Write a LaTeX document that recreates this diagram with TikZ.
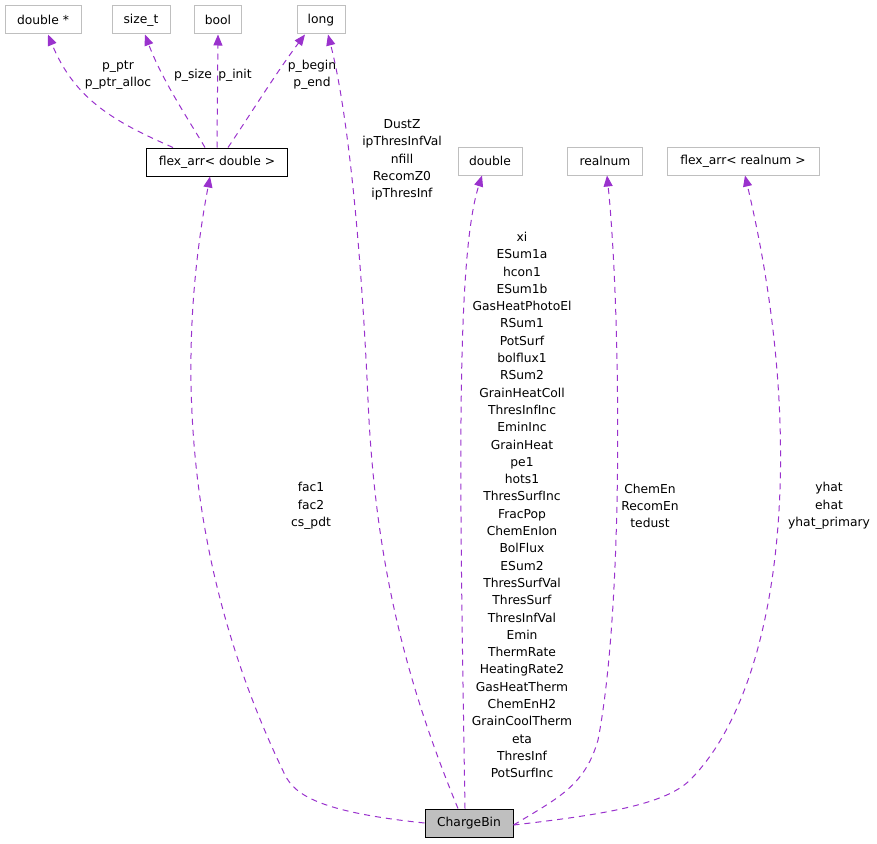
\documentclass[tikz,border=0pt]{standalone}
\usepackage{fontspec}
\setmainfont{DejaVu Sans}
\usetikzlibrary{arrows.meta}
\definecolor{edgec}{HTML}{9A32CD}
\definecolor{boxg}{HTML}{BFBFBF}
\begin{document}
\begin{tikzpicture}[x=1pt,y=-1pt,
  font=\fontsize{12.3}{17.3}\selectfont,
  box/.style={draw=boxg,line width=1pt,inner sep=0pt,minimum height=28pt,anchor=center},
  mainbox/.style={draw=black,line width=1pt,inner sep=0pt,minimum height=28pt},
  edge/.style={draw=edgec,line width=1pt,dash pattern=on 6pt off 5pt,-{Triangle[length=11pt,width=9pt]},edgec},
  lbl/.style={align=center,inner sep=0pt}]
\useasboundingbox (0,0) rectangle (877,843);
% nodes
\node[box,minimum width=76pt] (dptr) at (43,20) {double *};
\node[box,minimum width=58pt] (sizet) at (141,20) {size\_t};
\node[box,minimum width=47pt] (bool) at (218,20) {bool};
\node[box,minimum width=48pt] (long) at (321,20) {long};
\node[mainbox,minimum width=141pt] (flexd) at (217,162) {flex\_arr< double >};
\node[box,minimum width=64pt] (dbl) at (490,161) {double};
\node[box,minimum width=75pt] (real) at (605,161) {realnum};
\node[box,minimum width=152pt] (flexr) at (743,161) {flex\_arr< realnum >};
\node[mainbox,fill=boxg,minimum width=88pt] (cb) at (469,823) {ChargeBin};
% edges
\draw[edge] ([xshift=-44pt]flexd.north) .. controls (115,122) and (75,100) .. ([xshift=5pt]dptr.south);
\draw[edge] ([xshift=-12pt]flexd.north) .. controls (190,122) and (162,80) .. ([xshift=4pt]sizet.south);
\draw[edge] (flexd.north) -- (bool.south);
\draw[edge] ([xshift=11pt]flexd.north) .. controls (248,118) and (278,70) .. ([xshift=-16pt]long.south);
\draw[edge] ([xshift=-11pt]cb.north) .. controls (405,680) and (375,560) .. (368,400) .. controls (360,220) and (345,100) .. ([xshift=7pt]long.south);
\draw[edge] (cb.west) .. controls (320,812) and (295,795) .. (285,775) .. controls (200,600) and (168,400) .. ([xshift=-7pt]flexd.south);
\draw[edge] ([xshift=-4pt]cb.north) .. controls (460,500) and (455,260) .. ([xshift=-8pt]dbl.south);
\draw[edge] ([yshift=-2pt]cb.east) .. controls (560,797) and (585,785) .. (598,740) .. controls (625,600) and (620,300) .. ([xshift=2pt]real.south);
\draw[edge] ([yshift=-2pt]cb.east) .. controls (600,815) and (665,805) .. (690,780) .. controls (780,690) and (810,450) .. ([xshift=2pt]flexr.south);
% labels
\node[lbl] (l1) at (118,75) {p\_ptr\\p\_ptr\_alloc};
\node[lbl] (l2) at (193,75) {p\_size};
\node[lbl] (l3) at (235,75) {p\_init};
\node[lbl] (l4) at (312,75) {p\_begin\\p\_end};
\node[lbl] (l5) at (402,160) {DustZ\\ipThresInfVal\\nfill\\RecomZ0\\ipThresInf};
\node[lbl] (l6) at (311,506) {fac1\\fac2\\cs\_pdt};
\node[lbl] (l7) at (522,505) {xi\\ESum1a\\hcon1\\ESum1b\\GasHeatPhotoEl\\RSum1\\PotSurf\\bolflux1\\RSum2\\GrainHeatColl\\ThresInfInc\\EminInc\\GrainHeat\\pe1\\hots1\\ThresSurfInc\\FracPop\\ChemEnIon\\BolFlux\\ESum2\\ThresSurfVal\\ThresSurf\\ThresInfVal\\Emin\\ThermRate\\HeatingRate2\\GasHeatTherm\\ChemEnH2\\GrainCoolTherm\\eta\\ThresInf\\PotSurfInc};
\node[lbl] (l8) at (650,506) {ChemEn\\RecomEn\\tedust};
\node[lbl] (l9) at (829,506) {yhat\\ehat\\yhat\_primary};
\end{tikzpicture}
\end{document}
